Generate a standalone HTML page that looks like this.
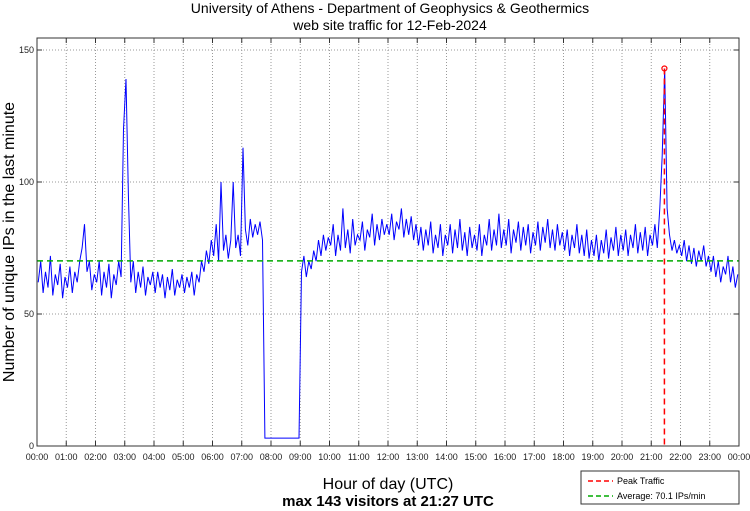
<!DOCTYPE html>
<html><head><meta charset="utf-8"><style>
body{margin:0;background:#fff;}
svg{display:block;font-family:"Liberation Sans",sans-serif;}
</style></head><body>
<svg id="chart" width="750" height="511" viewBox="0 0 750 511">
<text x="390" y="13" font-size="14" text-anchor="middle">University of Athens - Department of Geophysics &amp; Geothermics</text>
<text x="390" y="30" font-size="14" text-anchor="middle">web site traffic for 12-Feb-2024</text>
<text transform="translate(14,242) rotate(-90)" font-size="16" text-anchor="middle">Number of unique IPs in the last minute</text>
<text x="388" y="489" font-size="16" text-anchor="middle">Hour of day (UTC)</text>
<text x="388" y="506" font-size="15" font-weight="bold" text-anchor="middle">max 143 visitors at 21:27 UTC</text>
<g id="grid"></g><g id="series"></g><g id="axes"></g>
<g>
<rect x="581" y="471" width="158" height="33" fill="#fff" stroke="#333" stroke-width="1"/>
<line x1="588" y1="481" x2="613" y2="481" stroke="#f00" stroke-width="1.5" stroke-dasharray="5,3"/>
<text x="617" y="484" font-size="9">Peak Traffic</text>
<line x1="588" y1="496" x2="613" y2="496" stroke="#0a0" stroke-width="1.5" stroke-dasharray="5,3"/>
<text x="617" y="499" font-size="9">Average: 70.1 IPs/min</text>
</g>
</svg>
<script>
const hourLabels=["00:00","01:00","02:00","03:00","04:00","05:00","06:00","07:00","08:00","09:00","10:00","11:00","12:00","13:00","14:00","15:00","16:00","17:00","18:00","19:00","20:00","21:00","22:00","23:00","00:00"];
const yTicks=[0,50,100,150];
const averageValue=70.1;
const peakMinute=1287;
const peakValue=143;
const stepMinutes=5;
const visitors=[
62,70,58,66,60,72,57,65,61,69,56,64,
60,68,58,66,62,70,75,84,66,70,59,65,
62,70,57,66,60,69,56,65,61,70,64,120,
139,95,62,70,58,66,60,68,57,64,61,66,
58,66,60,65,56,64,59,67,57,63,60,65,
58,64,60,66,57,65,62,70,66,74,69,78,
72,84,70,100,74,80,71,78,100,75,80,72,
113,82,76,86,79,84,80,85,78,3,3,3,
3,3,3,3,3,3,3,3,3,3,3,3,
66,72,64,70,67,74,70,78,72,80,74,79,
76,84,72,80,74,90,75,82,73,86,76,80,
78,85,74,82,79,88,76,84,78,86,80,84,
80,88,78,85,82,90,79,86,80,87,78,84,
76,83,74,82,76,85,73,80,75,84,72,80,
76,84,73,82,75,86,74,81,72,83,75,80,
74,84,72,80,76,86,74,82,76,88,75,82,
76,86,73,82,77,85,74,83,76,84,73,81,
76,85,74,83,77,86,75,82,74,84,76,81,
74,82,72,80,75,84,73,80,72,82,71,78,
72,80,70,78,73,82,71,79,74,83,72,80,
74,82,72,80,75,84,73,81,74,83,72,80,
76,84,75,90,110,143,90,80,74,78,73,76,
72,78,70,76,69,75,68,74,70,76,68,72,
66,72,64,70,62,68,65,72,62,68,60,65];
const L=37,R=739,T=38,B=446;
const xS=m=>L+(R-L)*m/1440;
const yS=v=>B-(B-50)*v/150;
const NS="http://www.w3.org/2000/svg";
function mk(tag,attrs,parent){const e=document.createElementNS(NS,tag);for(const k in attrs)e.setAttribute(k,attrs[k]);parent.appendChild(e);return e;}
const grid=document.getElementById('grid'),axes=document.getElementById('axes'),series=document.getElementById('series');
hourLabels.forEach((lab,i)=>{const x=xS(i*60);
 if(i>0&&i<24){const g=mk('line',{x1:x,y1:T,x2:x,y2:B,stroke:'#999','stroke-width':1,'stroke-dasharray':'1,2'},grid);
 
 }
 mk('line',{x1:x,y1:B,x2:x,y2:B-5,stroke:'#333'},axes);
 mk('line',{x1:x,y1:T,x2:x,y2:T+5,stroke:'#333'},axes);
 const t=mk('text',{x:x,y:B+14,'font-size':9,'text-anchor':'middle',fill:'#222'},axes);t.textContent=lab;
 
 
});
yTicks.forEach(v=>{const y=yS(v);
 if(v>0){const g=mk('line',{x1:L,y1:y,x2:R,y2:y,stroke:'#999','stroke-width':1,'stroke-dasharray':'1,2'},grid);
 
 }
 mk('line',{x1:L,y1:y,x2:L+5,y2:y,stroke:'#333'},axes);
 mk('line',{x1:R,y1:y,x2:R-5,y2:y,stroke:'#333'},axes);
 const t=mk('text',{x:L-3,y:y+3,'font-size':9,'text-anchor':'end',fill:'#222'},axes);t.textContent=v;
 
 
});
const box=mk('rect',{x:L,y:T,width:R-L,height:B-T,fill:'none',stroke:'#333','stroke-width':1},axes);


const pts=visitors.map((v,i)=>xS(i*stepMinutes+2.5).toFixed(1)+','+yS(v).toFixed(1)).join(' ');
const line=mk('polyline',{points:pts,fill:'none',stroke:'#00f','stroke-width':1},series);


const avg=mk('line',{x1:L,y1:yS(averageValue),x2:R,y2:yS(averageValue),stroke:'#0a0','stroke-width':1.5,'stroke-dasharray':'6,4'},series);


const pk=mk('line',{x1:xS(peakMinute),y1:yS(peakValue),x2:xS(peakMinute),y2:B,stroke:'#f00','stroke-width':1.5,'stroke-dasharray':'6,4'},series);


const pc=mk('circle',{cx:xS(peakMinute),cy:yS(peakValue),r:2.5,fill:'none',stroke:'#f00','stroke-width':1.2},series);


</script>
</body></html>
